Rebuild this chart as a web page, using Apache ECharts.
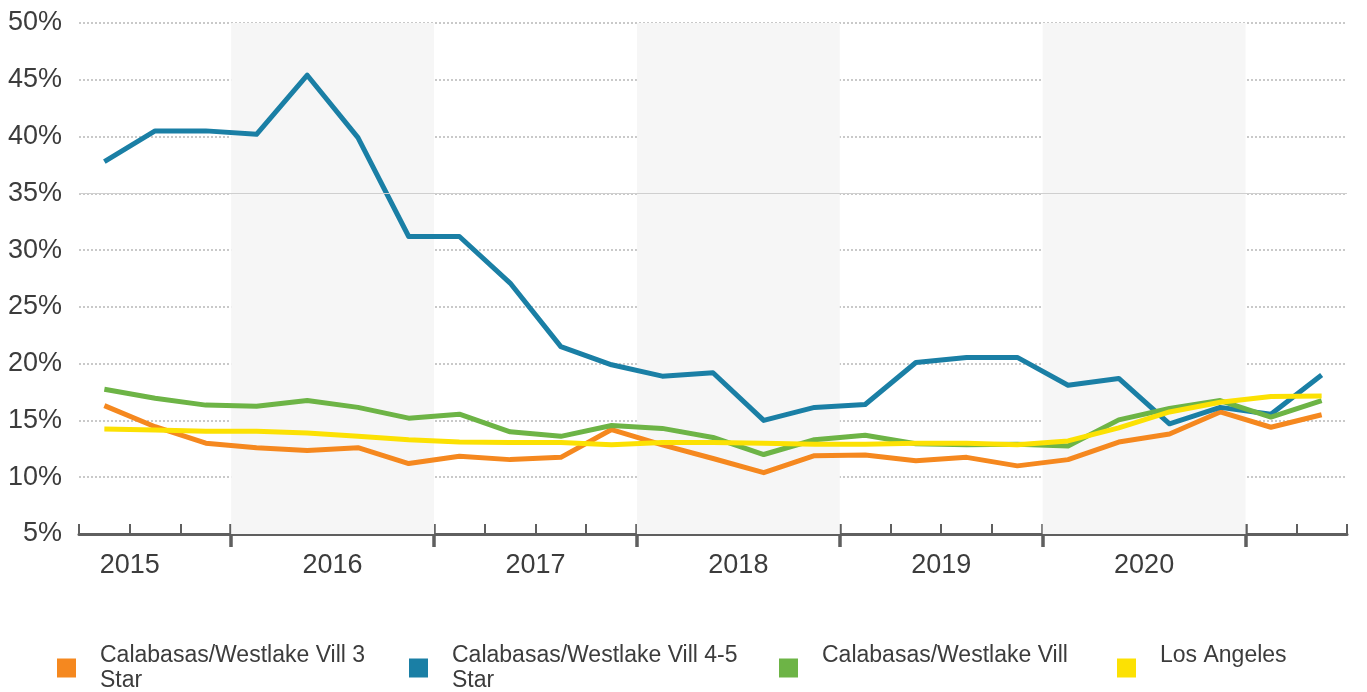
<!DOCTYPE html>
<html>
<head>
<meta charset="utf-8">
<title>Vacancy rate</title>
<script src="https://cdn.jsdelivr.net/npm/echarts@6/dist/echarts.min.js"></script>
<style>
  html, body { margin: 0; padding: 0; background: #ffffff; }
  #chart { width: 1367px; height: 692px; }
</style>
</head>
<body>
<div id="chart"></div>
<script>
// Quarterly periods shown on the x axis (2015 Q2 .. 2021 Q2)
const quarters = [
  '2015 Q2', '2015 Q3', '2015 Q4',
  '2016 Q1', '2016 Q2', '2016 Q3', '2016 Q4',
  '2017 Q1', '2017 Q2', '2017 Q3', '2017 Q4',
  '2018 Q1', '2018 Q2', '2018 Q3', '2018 Q4',
  '2019 Q1', '2019 Q2', '2019 Q3', '2019 Q4',
  '2020 Q1', '2020 Q2', '2020 Q3', '2020 Q4',
  '2021 Q1', '2021 Q2'
];

// Year labels and year boundaries
const yearLabels = [2015, 2016, 2017, 2018, 2019, 2020];
const yearBoundaries = [2016, 2017, 2018, 2019, 2020, 2021];
const shadedYears = [2016, 2018, 2020];

// Series names
const seriesNames = [
  'Calabasas/Westlake Vill 3 Star',
  'Calabasas/Westlake Vill 4-5 Star',
  'Calabasas/Westlake Vill',
  'Los Angeles'
];
const legendLabels = [
  'Calabasas/Westlake Vill 3\nStar',
  'Calabasas/Westlake Vill 4-5\nStar',
  'Calabasas/Westlake Vill\n ',
  'Los Angeles\n '
];

// Values (%)
const threeStar = [16.3, 14.45, 13.0, 12.6, 12.35, 12.6, 11.2, 11.85, 11.55, 11.75, 14.2, 12.85, 11.65, 10.4, 11.9, 11.95, 11.45, 11.75, 11.0, 11.55, 13.1, 13.8, 15.75, 14.4, 15.5];
const fourFiveStar = [37.8, 40.5, 40.5, 40.2, 45.4, 39.9, 31.2, 31.2, 27.1, 21.5, 19.9, 18.9, 19.2, 15.0, 16.15, 16.4, 20.1, 20.55, 20.55, 18.1, 18.7, 14.7, 16.15, 15.55, 19.0];
const submarket = [17.75, 16.95, 16.35, 16.25, 16.75, 16.15, 15.2, 15.55, 14.0, 13.6, 14.55, 14.3, 13.5, 12.0, 13.3, 13.7, 12.95, 12.85, 12.9, 12.75, 15.05, 16.05, 16.75, 15.3, 16.75];
const losAngeles = [14.25, 14.15, 14.05, 14.05, 13.9, 13.6, 13.3, 13.1, 13.05, 13.05, 12.85, 13.05, 13.05, 13.0, 12.9, 12.9, 13.0, 13.0, 12.85, 13.2, 14.35, 15.75, 16.6, 17.1, 17.15];

const colors = ['#f5881f', '#1a7fa5', '#6db446', '#fce103'];
const seriesData = [threeStar, fourFiveStar, submarket, losAngeles];

const FONT = '"Liberation Sans", Arial, Helvetica, sans-serif';
const TEXT = '#3c3c3c';
const AXIS = '#5f5f5f';

const chart = echarts.init(document.getElementById('chart'), null, { renderer: 'canvas' });

// Year axis range expressed in fractional years (band edges of the first/last quarter)
const yearMin = 2015.25;
const yearMax = 2021.5;

const legendLefts = [57, 409, 779, 1117];

const option = {
  animation: false,
  backgroundColor: '#ffffff',
  grid: { left: 79, right: 20, top: 23, bottom: 158, containLabel: false },
  xAxis: [
    {
      // quarter axis carrying the lines and the small ticks
      type: 'category',
      data: quarters,
      boundaryGap: true,
      position: 'bottom',
      axisLine: { show: true, lineStyle: { color: AXIS, width: 3 } },
      axisTick: { show: true, inside: true, length: 10, interval: 0, lineStyle: { color: AXIS, width: 2 } },
      axisLabel: { show: false },
      splitLine: { show: false }
    },
    {
      // year axis: long ticks below the line and the year labels
      type: 'value',
      min: yearMin,
      max: yearMax,
      position: 'bottom',
      axisLine: { show: false },
      axisTick: { show: true, inside: false, length: 13, customValues: yearBoundaries, lineStyle: { color: AXIS, width: 3.5 } },
      axisLabel: {
        show: true,
        customValues: yearLabels.map(y => y + 0.5),
        formatter: v => String(Math.floor(v)),
        fontSize: 27,
        fontFamily: FONT,
        color: TEXT,
        margin: 18
      },
      splitLine: { show: false }
    },
    {
      // year axis: long ticks above the line
      type: 'value',
      min: yearMin,
      max: yearMax,
      position: 'bottom',
      axisLine: { show: false },
      axisTick: { show: true, inside: true, length: 10, customValues: yearBoundaries, lineStyle: { color: AXIS, width: 3.5 } },
      axisLabel: { show: false },
      splitLine: { show: false }
    }
  ],
  yAxis: {
    type: 'value',
    min: 5,
    max: 50,
    interval: 5,
    axisLine: { show: false },
    axisTick: { show: false },
    axisLabel: {
      formatter: '{value}%',
      fontSize: 27,
      fontFamily: FONT,
      color: TEXT,
      margin: 17
    },
    splitLine: { show: true, lineStyle: { color: '#b8b8b8', width: 1.5, type: [2, 2] } }
  },
  legend: seriesNames.map((name, i) => ({
    data: [{ name: name, icon: 'rect' }],
    left: legendLefts[i],
    top: 643,
    padding: 0,
    itemWidth: 19,
    itemHeight: 19,
    selectedMode: false,
    formatter: () => legendLabels[i],
    textStyle: {
      fontSize: 23,
      lineHeight: 25,
      fontFamily: FONT,
      color: TEXT,
      padding: [0, 0, 0, 19]
    }
  })),
  series: [
    {
      // alternating year shading and the solid 35% reference line
      type: 'line',
      xAxisIndex: 1,
      yAxisIndex: 0,
      data: [],
      silent: true,
      markArea: {
        silent: true,
        itemStyle: { color: '#f6f6f6' },
        data: shadedYears.map(y => [{ xAxis: y }, { xAxis: y + 1 }])
      },
      markLine: {
        silent: true,
        symbol: 'none',
        label: { show: false },
        lineStyle: { color: '#cfcfcf', width: 1.2, type: 'solid' },
        data: [{ yAxis: 35 }]
      },
      z: 1
    }
  ].concat(seriesNames.map((name, i) => ({
    name: name,
    type: 'line',
    xAxisIndex: 0,
    yAxisIndex: 0,
    data: seriesData[i],
    symbol: 'none',
    smooth: false,
    lineStyle: { color: colors[i], width: 5, join: 'round' },
    itemStyle: { color: colors[i] },
    z: 3 + i
  })))
};

chart.setOption(option);
</script>
</body>
</html>
